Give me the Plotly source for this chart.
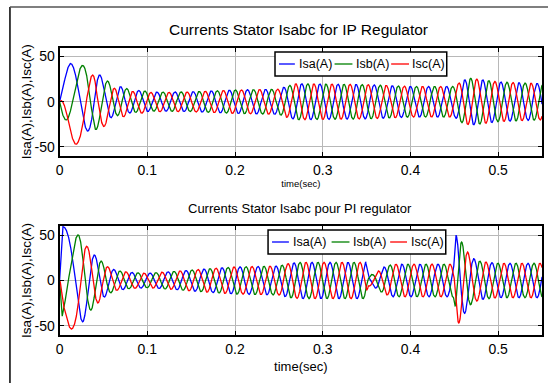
import numpy as np
import plotly.graph_objects as go

W, H = 548, 383

# ---------------- data ----------------
time_ticks = [0, 0.1, 0.2, 0.3, 0.4, 0.5]
time_tick_labels = ["0", "0.1", "0.2", "0.3", "0.4", "0.5"]
current_ticks = [-50, 0, 50]
current_tick_labels = ["-50", "0", "50"]
series_names = ["Isa(A)", "Isb(A)", "Isc(A)"]
phase_shift_deg = [0, -120, 120]

# IP regulator (top): envelope amplitude of the stator currents
ip_env_t = [0, 0.012, 0.022, 0.03, 0.04, 0.048, 0.057, 0.065, 0.075, 0.09, 0.11, 0.15,
            0.2, 0.25, 0.258, 0.27, 0.35, 0.4, 0.45, 0.458, 0.468, 0.5, 0.55]
ip_env_a = [30, 33, 32, 37, 37, 24, 20, 17, 14, 12, 10.5, 11,
            13, 14, 17, 20, 19, 17, 17, 23, 26, 22, 20]
ip_freq_t = [0, 0.03, 0.045, 0.07, 0.55]
ip_freq_hz = [25, 27, 38, 48.45, 48.45]
ip_start_angle_deg = -30
ip_offset_decay_s = 0.027

# PI regulator (bottom)
pi_env_t = [0, 0.003, 0.01, 0.016, 0.022, 0.027, 0.031, 0.04, 0.047, 0.055, 0.065,
            0.08, 0.1, 0.13, 0.17, 0.2, 0.25, 0.262, 0.275, 0.349, 0.352, 0.358,
            0.37, 0.38, 0.449, 0.452, 0.457, 0.462, 0.47, 0.48, 0.5, 0.55]
pi_env_a = [0, 60, 56, 52, 50, 45, 38, 28, 22, 15, 11,
            9, 8, 10, 13, 15, 16, 19, 20, 20, 6, 7,
            15, 18, 18, 50, 45, 36, 25, 21, 19, 19]
pi_freq_t = [0, 0.005, 0.016, 0.027, 0.04, 0.06, 0.55]
pi_freq_hz = [15, 15, 22, 33, 42, 48.74, 48.74]
pi_start_angle_deg = 63

colors = ["#0000ff", "#008000", "#ff0000"]

# ---------------- build waveforms ----------------
dt = 5e-5
t = np.arange(0, 0.55 + dt / 2, dt)


def waves(env_t, env_a, freq_t, freq_hz, start_deg, decay=None):
    f = np.interp(t, freq_t, freq_hz)
    theta = np.deg2rad(start_deg) + 2 * np.pi * np.concatenate([[0], np.cumsum(f[:-1]) * dt])
    amp = np.interp(t, env_t, env_a)
    out = []
    for ph in phase_shift_deg:
        y = amp * np.sin(theta + np.deg2rad(ph))
        if decay is not None:
            y = y - amp[0] * np.sin(np.deg2rad(start_deg + ph)) * np.exp(-t / decay)
        out.append(y)
    return out


ip_waves = waves(ip_env_t, ip_env_a, ip_freq_t, ip_freq_hz, ip_start_angle_deg, ip_offset_decay_s)
pi_waves = waves(pi_env_t, pi_env_a, pi_freq_t, pi_freq_hz, pi_start_angle_deg)

FONT = "Liberation Sans, Arial, sans-serif"

fig = go.Figure()
for name, y, c in zip(series_names, ip_waves, colors):
    fig.add_trace(go.Scatter(x=t, y=y, mode="lines", name=name, line=dict(color=c, width=1.3),
                             xaxis="x", yaxis="y", showlegend=False))
for name, y, c in zip(series_names, pi_waves, colors):
    fig.add_trace(go.Scatter(x=t, y=y, mode="lines", name=name, line=dict(color=c, width=1.3),
                             xaxis="x2", yaxis="y2", showlegend=False))


def px(x):
    return x / W


def py(y):
    return 1 - y / H


xdom = [px(56), px(542)]
axis_common = dict(showline=True, linecolor="black", linewidth=2, mirror="allticks",
                   ticks="inside", ticklen=4, tickcolor="black", showgrid=True,
                   gridcolor="#b8b8b8", gridwidth=1, zeroline=False,
                   tickfont=dict(family=FONT, size=14, color="black"))

fig.update_layout(
    width=W, height=H, margin=dict(l=0, r=0, t=0, b=0),
    paper_bgcolor="white", plot_bgcolor="white",
    xaxis=dict(domain=xdom, range=[0, 0.55], tickvals=time_ticks, ticktext=time_tick_labels,
               anchor="y", title=dict(text="time(sec)", font=dict(family=FONT, size=9.5, color="black"), standoff=3),
               **axis_common),
    yaxis=dict(domain=[py(156), py(47.5)], range=[-60, 60], tickvals=current_ticks, ticktext=current_tick_labels,
               anchor="x", title=dict(text="Isa(A),Isb(A),Isc(A)", font=dict(family=FONT, size=13.5, color="black"), standoff=0),
               **axis_common),
    xaxis2=dict(domain=xdom, range=[0, 0.55], tickvals=time_ticks, ticktext=time_tick_labels,
                anchor="y2", title=dict(text="time(sec)", font=dict(family=FONT, size=13, color="black"), standoff=6),
                **axis_common),
    yaxis2=dict(domain=[py(335), py(226)], range=[-60, 60], tickvals=current_ticks, ticktext=current_tick_labels,
                anchor="x2", title=dict(text="Isa(A),Isb(A),Isc(A)", font=dict(family=FONT, size=13.5, color="black"), standoff=0),
                **axis_common),
)

ann = [
    dict(text="Currents Stator Isabc for IP Regulator", x=px(297), y=py(29), xref="paper", yref="paper",
         showarrow=False, xanchor="center", yanchor="middle", font=dict(family=FONT, size=15.5, color="black")),
    dict(text="Currents Stator Isabc pour PI regulator", x=px(298), y=py(208), xref="paper", yref="paper",
         showarrow=False, xanchor="center", yanchor="middle", font=dict(family=FONT, size=13, color="black")),
]
shapes = [
    dict(type="line", xref="paper", yref="paper", x0=px(6), x1=px(6), y0=py(7), y1=0, line=dict(color="black", width=1.5)),
    dict(type="line", xref="paper", yref="paper", x0=px(6), x1=1, y0=py(7), y1=py(7), line=dict(color="#555555", width=1.5)),
]

# legends (box, line samples, labels)
legend_specs = [
    dict(box=(273, 446, 52, 76), lines=[(277, 293), (333, 351), (390, 408)], texts=[295, 353, 409], yc=64),
    dict(box=(266, 445, 230, 254), lines=[(270, 287), (330, 348), (389, 406)], texts=[289, 350, 408], yc=242),
]
for spec in legend_specs:
    x0, x1, y0, y1 = spec["box"]
    shapes.append(dict(type="rect", xref="paper", yref="paper", x0=px(x0), x1=px(x1), y0=py(y1), y1=py(y0),
                       line=dict(color="black", width=1.5), fillcolor="white", layer="above"))
    for (lx0, lx1), tx, name, c in zip(spec["lines"], spec["texts"], series_names, colors):
        shapes.append(dict(type="line", xref="paper", yref="paper", x0=px(lx0), x1=px(lx1),
                           y0=py(spec["yc"]), y1=py(spec["yc"]), line=dict(color=c, width=1.3), layer="above"))
        ann.append(dict(text=name, x=px(tx), y=py(spec["yc"]), xref="paper", yref="paper", showarrow=False,
                        xanchor="left", yanchor="middle", font=dict(family=FONT, size=12.5, color="black")))

fig.update_layout(annotations=ann, shapes=shapes)
fig.write_html("out.html", config={"displayModeBar": False},
               post_script="document.body.style.margin='0';document.body.style.overflow='hidden';")
